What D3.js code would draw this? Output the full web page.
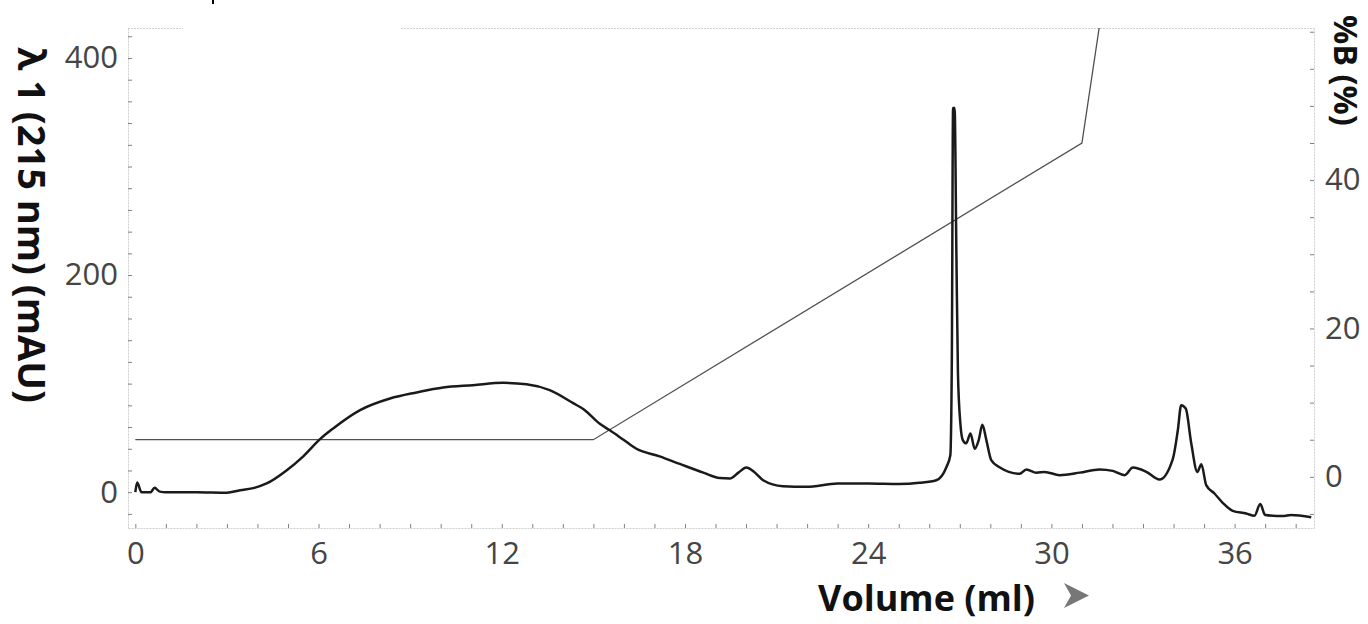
<!DOCTYPE html>
<html>
<head>
<meta charset="utf-8">
<script src="https://cdn.jsdelivr.net/npm/d3@7"></script>
<style>
  body { margin: 0; background: #fff; }
  svg { display: block; }
</style>
</head>
<body>
<svg width="1368" height="624"></svg>
<script>
// chromatogram trace: volume (ml) vs absorbance (mAU)
const volume = [0, 0.06, 0.2, 0.5, 0.63, 0.8, 1.0, 2.0, 3.0, 3.43, 3.9, 4.3, 4.95, 5.5, 6.04, 6.48,
  7.36, 8.34, 9.21, 10.08, 11.06, 12.05, 12.81, 13.57, 14.34, 14.7, 15.21, 15.54, 16.0, 16.41, 17.17,
  17.83, 18.6, 19.14, 19.47, 19.75, 20.01, 20.25, 20.56, 21.21, 21.98, 23.0, 24.0, 25.0, 25.68, 26.23,
  26.56, 26.69, 26.74, 26.78, 26.83, 26.89, 26.94, 27.02, 27.1, 27.21, 27.35, 27.49, 27.62, 27.74,
  27.87, 28.03, 28.3, 28.96, 29.18, 29.51, 29.78, 30.27, 30.93, 31.58, 32.01, 32.4, 32.67, 33.11,
  33.54, 33.98, 34.14, 34.25, 34.4, 34.58, 34.78, 34.91, 35.07, 35.34, 35.61, 35.94, 36.38, 36.65,
  36.84, 37.0, 37.58, 37.85, 38.51];
const mAU = [0, 9, 0, 0, 4, 0.5, 0, 0, -0.5, 1.8, 4, 8, 20, 33, 48.6, 58.7,
  75.6, 86.3, 91.9, 96.5, 98.6, 100.7, 99.5, 94, 82, 76, 63, 57, 48, 40, 33,
  26, 18, 13, 12.6, 18, 22.7, 19, 11, 5.5, 4.9, 8, 8, 7.5, 8.6, 11,
  23, 34, 125, 354, 354, 217, 109, 63, 48, 45, 54, 40, 48, 62,
  48, 29.5, 23, 17, 21, 18, 18.7, 15.7, 18, 21, 19.6, 15.7, 22.7, 18.7,
  11.7, 31, 57, 80, 77, 45, 18.7, 25.8, 6.5, -1.2, -9.8, -17.2, -19.6, -21.8,
  -11, -21, -22, -21, -23];

// gradient: %B
const volumeB = [0, 15, 31, 33];
const percentB = [5, 5, 45, 100];

// tick labels
const xTickLabels = [0, 6, 12, 18, 24, 30, 36];
const leftTickLabels = [0, 200, 400];
const rightTickLabels = [0, 20, 40];

const svg = d3.select('svg');
const plotLeft = 128, plotRight = 1314, plotTop = 28, plotBottom = 528;

const x = d3.scaleLinear().domain([-0.24, 38.6]).range([plotLeft, plotRight]);
const yL = d3.scaleLinear().domain([-33, 427.6]).range([plotBottom, plotTop]);
const yR = d3.scaleLinear().domain([-6.9, 60.5]).range([plotBottom, plotTop]);

const font = '"Open Sans", "DejaVu Sans", sans-serif';

svg.append('clipPath').attr('id', 'plot')
  .append('rect')
  .attr('x', plotLeft).attr('y', plotTop)
  .attr('width', plotRight - plotLeft).attr('height', plotBottom - plotTop);

// top border (dotted light gray)
svg.append('line')
  .attr('x1', plotLeft).attr('x2', plotRight)
  .attr('y1', plotTop + 0.5).attr('y2', plotTop + 0.5)
  .attr('stroke', '#cfcfcf')
  .attr('stroke-dasharray', '2,1');

// white box hiding part of the top border
svg.append('rect').attr('x', 183).attr('y', 18).attr('width', 217).attr('height', 14).attr('fill', '#fff');
// tiny stroke left over from a cropped title above
svg.append('path').attr('d', 'M213,0 L213,4').attr('stroke', '#000').attr('stroke-width', 2);

// axes with inward ticks
function styleAxis(g) {
  g.select('.domain').attr('stroke', '#cfcfcf').attr('stroke-dasharray', '2,1');
  g.selectAll('.tick line').attr('stroke', '#808080');
}

svg.append('g')
  .attr('transform', `translate(0,${plotBottom})`)
  .call(d3.axisBottom(x).tickValues(d3.range(0, 39)).tickSize(-4).tickSizeOuter(0).tickFormat(''))
  .call(styleAxis);

svg.append('g')
  .attr('transform', `translate(${plotLeft},0)`)
  .call(d3.axisLeft(yL).tickValues(d3.range(-20, 421, 20)).tickSize(-4).tickSizeOuter(0).tickFormat(''))
  .call(styleAxis);

svg.append('g')
  .attr('transform', `translate(${plotRight},0)`)
  .call(d3.axisRight(yR).tickValues(d3.range(-5, 61, 5)).tickSize(-4).tickSizeOuter(0).tickFormat(''))
  .call(styleAxis);

// tick labels
function styleLabels(g) {
  g.select('.domain').remove();
  g.selectAll('.tick line').remove();
  g.selectAll('text')
    .attr('font-family', font)
    .attr('font-size', 31)
    .attr('fill', '#454545');
}

svg.append('g')
  .attr('transform', `translate(0,${plotBottom})`)
  .call(d3.axisBottom(x).tickValues(xTickLabels).tickSize(0).tickPadding(14))
  .call(styleLabels);

svg.append('g')
  .attr('transform', `translate(${plotLeft},0)`)
  .call(d3.axisLeft(yL).tickValues(leftTickLabels).tickSize(0).tickPadding(10))
  .call(styleLabels);

svg.append('g')
  .attr('transform', `translate(${plotRight},0)`)
  .call(d3.axisRight(yR).tickValues(rightTickLabels).tickSize(0).tickPadding(11))
  .call(styleLabels);

// axis titles
svg.append('text')
  .attr('transform', 'translate(18,47) rotate(90)')
  .attr('font-family', font).attr('font-weight', 'bold').attr('font-size', 38)
  .attr('fill', '#111')
  .text('λ 1 (215 nm) (mAU)');

svg.append('text')
  .attr('transform', 'translate(1334,15) rotate(90)')
  .attr('font-family', font).attr('font-weight', 'bold').attr('font-size', 32.5)
  .attr('fill', '#111')
  .text('%B (%)');

svg.append('text')
  .attr('x', 818).attr('y', 611)
  .attr('font-family', font).attr('font-weight', 'bold').attr('font-size', 36)
  .attr('fill', '#111')
  .text('Volume (ml)');

// arrow after x title
svg.append('path')
  .attr('d', 'M1064,583 L1089,595.5 L1064,608 L1071,595.5 Z')
  .attr('fill', '#777');

const plot = svg.append('g').attr('clip-path', 'url(#plot)');

// %B gradient line
const lineB = d3.line()
  .x((d, i) => x(volumeB[i]))
  .y(d => yR(d));
plot.append('path')
  .datum(percentB)
  .attr('d', lineB)
  .attr('fill', 'none')
  .attr('stroke', '#505050')
  .attr('stroke-width', 1.3);

// absorbance trace
const lineA = d3.line()
  .x((d, i) => x(volume[i]))
  .y(d => yL(d))
  .curve(d3.curveMonotoneX);
plot.append('path')
  .datum(mAU)
  .attr('d', lineA)
  .attr('fill', 'none')
  .attr('stroke', '#1a1a1a')
  .attr('stroke-width', 2.5)
  .attr('stroke-linejoin', 'round');
</script>
</body>
</html>
